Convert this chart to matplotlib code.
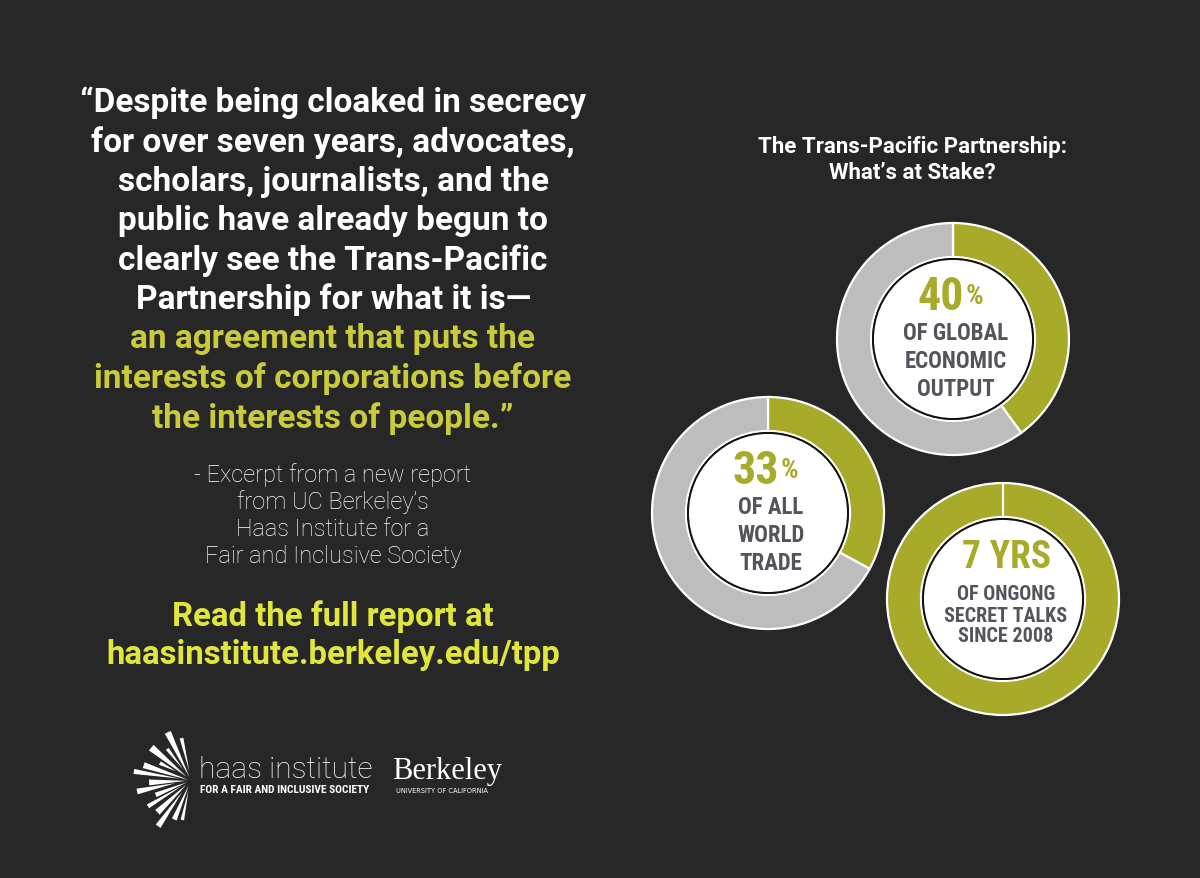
import numpy as np
import matplotlib.pyplot as plt
from matplotlib.patches import Circle, Polygon

# Canvas size in pixels
W, H = 1200, 879
BG = '#272727'
OLIVE = '#a8aa2a'
GRAY = '#bdbdbd'
DARK_TEXT = '#55545c'

COND = ['Roboto Condensed', 'IBM Plex Sans Condensed', 'DejaVu Sans']
SANS = ['Roboto', 'DejaVu Sans']

# Quote text
quote_white = ["\u201cDespite being cloaked in secrecy",
               "for over seven years, advocates,",
               "scholars, journalists, and the",
               "public have already begun to",
               "clearly see the Trans-Pacific",
               "Partnership for what it is\u2014"]
quote_green = ["an agreement that puts the",
               "interests of corporations before",
               "the interests of people.\u201d"]
excerpt = ["- Excerpt from a new report",
           "from UC Berkeley\u2019s",
           "Haas Institute for a",
           "Fair and Inclusive Society"]
read_more = ["Read the full report at", "haasinstitute.berkeley.edu/tpp"]

# Donut data: share of the ring highlighted
stat_shares = [40, 33, 100]
stat_values = ["40", "33", "7 YRS"]
stat_units = ["%", "%", ""]
stat_labels = [["OF GLOBAL", "ECONOMIC", "OUTPUT"],
               ["OF ALL", "WORLD", "TRADE"],
               ["OF ONGONG", "SECRET TALKS", "SINCE 2008"]]
stat_centers = [(953, 340), (768, 514), (1003, 600)]

fig = plt.figure(figsize=(W / 100, H / 100), dpi=100)
fig.patch.set_facecolor(BG)
ax = fig.add_axes([0, 0, 1, 1])
ax.set_facecolor(BG)


def Y(py):
    return H - py


# --- Quote ---
qx = 333
for i, line in enumerate(quote_white + quote_green):
    color = 'white' if i < len(quote_white) else '#c9cb3c'
    ax.text(qx, Y(103 + i * 39.4), line, ha='center', va='center', color=color,
            fontsize=24, fontweight='bold', family=SANS)

for i, line in enumerate(excerpt):
    ax.text(qx, Y(475 + i * 27.3), line, ha='center', va='center', color='white',
            fontsize=17, fontweight='light', family=SANS)

for i, line in enumerate(read_more):
    ax.text(qx, Y(617 + i * 38), line, ha='center', va='center', color='#e1e63a',
            fontsize=23.7, fontweight='bold', family=SANS)

# --- Title ---
ax.text(912, Y(147), "The Trans-Pacific Partnership:", ha='center', va='center',
        color='white', fontsize=16, fontweight='bold', family=SANS)
ax.text(912, Y(173), "What\u2019s at Stake?", ha='center', va='center',
        color='white', fontsize=16, fontweight='bold', family=SANS)

# --- Donuts ---
R_OUT, R_IN = 116, 80
for share, val, unit, labels, (cx, cy) in zip(stat_shares, stat_values, stat_units,
                                                stat_labels, stat_centers):
    ax.pie([share, 100 - share], colors=[OLIVE, GRAY], startangle=90, counterclock=False,
           center=(cx, Y(cy)), radius=R_OUT, frame=True,
           wedgeprops=dict(width=R_OUT - R_IN - 2, edgecolor='white', linewidth=1.6))
    ax.add_patch(Circle((cx, Y(cy)), R_IN, facecolor='white', edgecolor='#111111',
                        linewidth=1.4, zorder=3))
    if unit:
        t = ax.text(cx - 12, Y(cy - 43), val, ha='center', va='center', color=OLIVE,
                    fontsize=33, fontweight='bold', family=COND, zorder=4)
        ax.annotate(unit, xy=(1.0, 0.2), xycoords=t, xytext=(1, 0),
                    textcoords='offset points', ha='left', va='bottom',
                    color=OLIVE, fontsize=20, fontweight='bold', family=COND, zorder=4)
        y0, dy, fs = cy - 7, 28, 16.5
    else:
        ax.text(cx + 3, Y(cy - 42), val, ha='center', va='center', color=OLIVE,
                fontsize=27, fontweight='bold', family=COND, zorder=4)
        y0, dy, fs = cy - 5, 21, 14.5
    for j, lab in enumerate(labels):
        ax.text(cx + 3, Y(y0 + j * dy), lab, ha='center', va='center', color=DARK_TEXT,
                fontsize=fs, fontweight='bold', family=COND, zorder=4)

# --- Logo ---
fx, fy = 191, 782
ray_angles = [100, 112, 124, 136, 147, 158, 168, 178, 188, 198, 208, 219, 231, 243, 255]
ray_widths = [5, 7, 5, 8, 6, 7, 5, 8, 6, 7, 5, 8, 6, 7, 5]
ray_lengths = [44, 54, 40, 52, 36, 50, 58, 42, 55, 38, 50, 46, 56, 42, 40]
ray_starts = [10, 4, 14, 6, 18, 3, 12, 5, 16, 4, 10, 6, 14, 5, 10]
for ang, wd, ln, st in zip(ray_angles, ray_widths, ray_lengths, ray_starts):
    a = np.radians(ang)
    b = np.radians(ang + wd)
    pts = [(fx + st * np.cos(a), Y(fy - st * np.sin(a))),
           (fx + ln * np.cos(a), Y(fy - ln * np.sin(a))),
           (fx + ln * np.cos(b), Y(fy - ln * np.sin(b)))]
    ax.add_patch(Polygon(pts, closed=True, facecolor='white', edgecolor='none'))

ax.text(199, Y(770), "haas institute", ha='left', va='center', color='white',
        fontsize=21.5, fontweight='light', family=SANS)
ax.text(200, Y(790), "FOR A FAIR AND INCLUSIVE SOCIETY", ha='left', va='center',
        color='white', fontsize=8.2, fontweight='bold', family=COND)
ax.text(392, Y(772), "Berkeley", ha='left', va='center', color='white',
        fontsize=22, family=['Liberation Serif', 'DejaVu Serif'])
ax.text(396, Y(791), "UNIVERSITY OF CALIFORNIA", ha='left', va='center',
        color='white', fontsize=4.8, family=['DejaVu Sans'])

ax.set_xlim(0, W)
ax.set_ylim(0, H)
ax.set_aspect('auto')
ax.axis('off')

fig.savefig('out.png', dpi=100, facecolor=BG)
